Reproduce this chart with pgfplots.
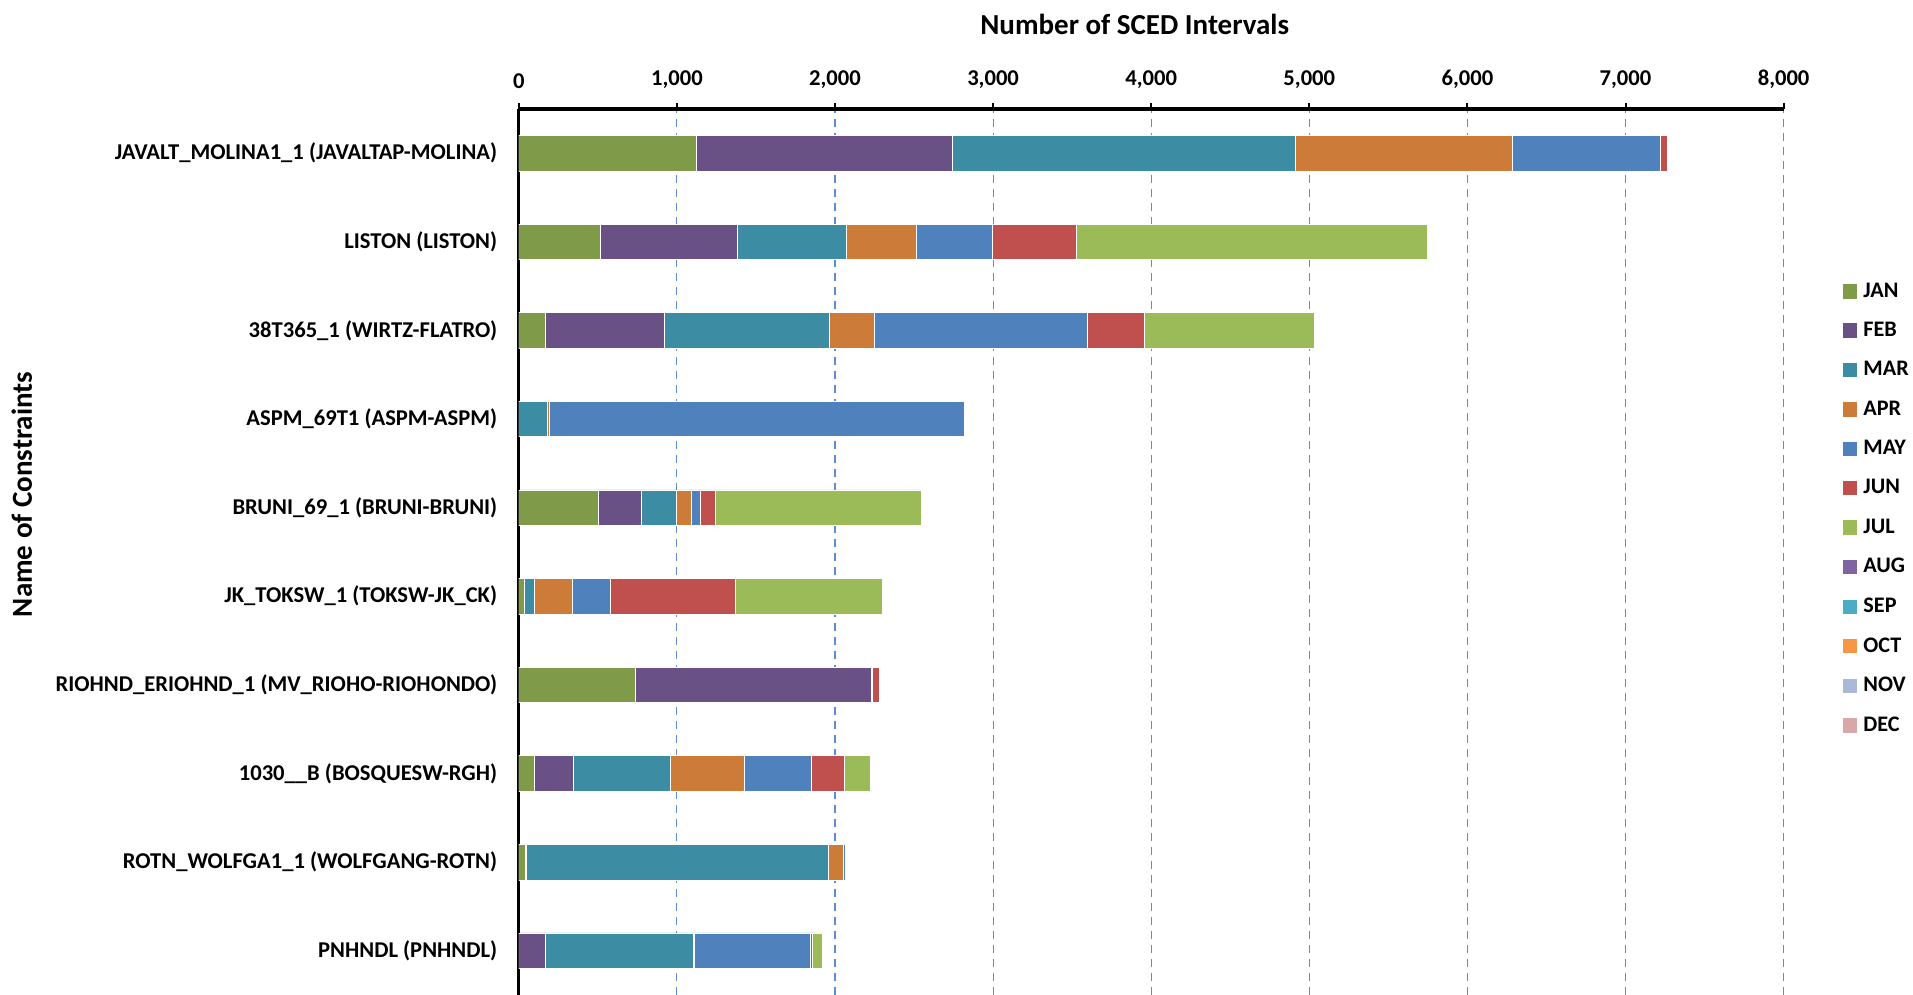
\documentclass[border=0pt]{standalone}
\usepackage{fontspec}
\setmainfont{Carlito}
\usepackage{pgfplots}
\usepackage{pgfplotstable}
\pgfplotsset{compat=1.18}
\definecolor{cJAN}{HTML}{7F9A48}
\definecolor{cFEB}{HTML}{695185}
\definecolor{cMAR}{HTML}{3C8DA3}
\definecolor{cAPR}{HTML}{CC7B38}
\definecolor{cMAY}{HTML}{4F81BD}
\definecolor{cJUN}{HTML}{C0504D}
\definecolor{cJUL}{HTML}{9BBB59}
\definecolor{cAUG}{HTML}{8064A2}
\definecolor{cSEP}{HTML}{4BACC6}
\definecolor{cOCT}{HTML}{F79646}
\definecolor{cNOV}{HTML}{A9B9D7}
\definecolor{cDEC}{HTML}{D9A7A9}
\definecolor{gridblue}{HTML}{5B8ED0}
\pgfplotstableread{
idx JAN FEB MAR APR MAY JUN JUL
9 1123 1618 2172 1372 935 42 0
8 516 864 690 442 481 531 2225
7 165 758 1043 284 1345 359 1077
6 0 0 181 10 2629 0 0
5 501 271 222 94 58 94 1303
4 37 0 63 241 238 789 931
3 735 1493 0 11 0 41 0
2 100 245 613 468 427 206 164
1 41 8 1909 95 15 0 0
0 0 168 936 5 735 15 63
}\data
\begin{document}
\begin{tikzpicture}
\begin{axis}[
  xbar stacked,
  scale only axis,
  width=632.4pt, height=443pt,
  xmin=0, xmax=8000,
  ymin=-0.5, ymax=9.5,
  bar width=0.40,
  axis x line=top,
  axis y line=left,
  axis line style={-},
  x axis line style={line width=2pt},
  y axis line style={line width=1.5pt},
  xtick={0,1000,...,8000},
  scaled x ticks=false,
  /pgf/number format/assume math mode=true,
  /pgf/number format/1000 sep={,},
  xticklabel style={font=\bfseries\fontsize{11.3}{13}\selectfont, yshift=3.8pt},
  ytick={0,...,9},
  yticklabels={PNHNDL (PNHNDL), ROTN\_WOLFGA1\_1 (WOLFGANG-ROTN), 1030\_\_B (BOSQUESW-RGH), RIOHND\_ERIOHND\_1 (MV\_RIOHO-RIOHONDO), JK\_TOKSW\_1 (TOKSW-JK\_CK), BRUNI\_69\_1 (BRUNI-BRUNI), ASPM\_69T1 (ASPM-ASPM), 38T365\_1 (WIRTZ-FLATRO), LISTON (LISTON), JAVALT\_MOLINA1\_1 (JAVALTAP-MOLINA)},
  yticklabel style={font=\bfseries\fontsize{11.3}{13}\selectfont, anchor=east, xshift=-4.3pt},
  ytick style={draw=none},
  minor ytick={0.5,1.5,...,8.5},
  minor y tick style={black, line width=1.5pt},
  minor tick length=4pt,
  xtick style={black, line width=1pt},
  major tick length=3pt,
  tick align=outside,
  xmajorgrids,
  major x grid style={gridblue, line width=0.6pt, dash pattern=on 4pt off 3pt},
  xlabel={Number of SCED Intervals},
  xlabel style={at={(axis description cs:0.487,1.0955)}, anchor=center, font=\bfseries\fontsize{14.5}{16}\selectfont},
  ylabel={Name of Constraints},
  ylabel style={at={(axis description cs:-0.393,0.565)}, anchor=center, rotate=0, font=\bfseries\fontsize{14.5}{16}\selectfont},
  every axis plot/.append style={draw=white, line width=0.3pt},
  legend cell align=left,
  legend image code/.code={\fill[#1, draw=none] (0pt,-3.6pt) rectangle (7.3pt,3.6pt);},
  legend style={draw=none, fill=none, at={(axis description cs:1.0465,0.809)}, anchor=north west,
    font=\bfseries\fontsize{11.1}{12.5}\selectfont, row sep=7pt, inner sep=0pt,
    nodes={inner xsep=3pt}},
]
\addplot[fill=cJAN] table[x=JAN,y=idx]{\data};
\addplot[fill=cFEB] table[x=FEB,y=idx]{\data};
\addplot[fill=cMAR] table[x=MAR,y=idx]{\data};
\addplot[fill=cAPR] table[x=APR,y=idx]{\data};
\addplot[fill=cMAY] table[x=MAY,y=idx]{\data};
\addplot[fill=cJUN] table[x=JUN,y=idx]{\data};
\addplot[fill=cJUL] table[x=JUL,y=idx]{\data};
\addlegendentry{JAN}
\addlegendentry{FEB}
\addlegendentry{MAR}
\addlegendentry{APR}
\addlegendentry{MAY}
\addlegendentry{JUN}
\addlegendentry{JUL}
\addlegendimage{fill=cAUG}\addlegendentry{AUG}
\addlegendimage{fill=cSEP}\addlegendentry{SEP}
\addlegendimage{fill=cOCT}\addlegendentry{OCT}
\addlegendimage{fill=cNOV}\addlegendentry{NOV}
\addlegendimage{fill=cDEC}\addlegendentry{DEC}
\end{axis}
\pgfresetboundingbox
\useasboundingbox ([xshift=-259.4pt]current axis.south west) rectangle ([xshift=64.7pt,yshift=54.5pt]current axis.north east);
\end{tikzpicture}
\end{document}
